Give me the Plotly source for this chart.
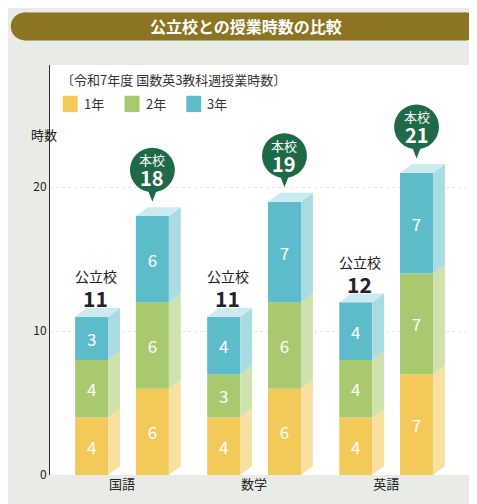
import plotly.graph_objects as go

subjects = ["国語", "数学", "英語"]
grades = ["1年", "2年", "3年"]
public_hours = [[4, 4, 3], [4, 3, 4], [4, 4, 4]]
school_hours = [[6, 6, 6], [6, 6, 7], [7, 7, 7]]
front_colors = ["#f3c95a", "#a9c96f", "#5cbccb"]
side_colors = ["#f8e0a0", "#cfe2ad", "#a9dbe3"]
top_colors = ["#fbecc4", "#e1edcb", "#cdeaef"]

fig = go.Figure()
W = 0.25
DX, DY = 0.09, 0.62


def draw_bar(xc, vals):
    base = 0
    for k, v in enumerate(vals):
        x0, x1 = xc - W / 2, xc + W / 2
        fig.add_trace(go.Bar(x=[xc], y=[v], base=[base], width=W, marker_color=front_colors[k],
                             marker_line_width=0, showlegend=False, hoverinfo="skip",
                             text=[str(v)], textposition="inside", insidetextanchor="middle",
                             textfont=dict(color="white", size=17)))
        fig.add_trace(go.Scatter(x=[x1, x1 + DX, x1 + DX, x1, x1], y=[base, base + DY, base + v + DY, base + v, base],
                                 fill="toself", fillcolor=side_colors[k], line_width=0, mode="lines",
                                 showlegend=False, hoverinfo="skip"))
        base += v
    fig.add_trace(go.Scatter(x=[x0, x1, x1 + DX, x0 + DX, x0], y=[base, base, base + DY, base + DY, base],
                             fill="toself", fillcolor=top_colors[2], line_width=0, mode="lines",
                             showlegend=False, hoverinfo="skip"))
    return base


fig.add_shape(type="path", xref="paper", yref="y",
              path="M 0,0 L 1,0 L 1,-1.2 L 0,-1.2 Z", fillcolor="#e4e4e2", line_width=0, layer="below")

for i, s in enumerate(subjects):
    xp, xs = i - 0.23, i + 0.23
    tp = draw_bar(xp, public_hours[i])
    ts = draw_bar(xs, school_hours[i])
    fig.add_annotation(x=xp + 0.03, y=tp + 2.8, text="公立校", showarrow=False, yanchor="middle",
                       font=dict(size=14, color="#222"))
    fig.add_annotation(x=xp + 0.03, y=tp + 1.3, text="<b>%d</b>" % tp, showarrow=False, yanchor="middle",
                       font=dict(size=21, color="#222"))
    cy = ts + 3.2
    fig.add_shape(type="path", xref="x", yref="y",
                  path=f"M {xs-0.05},{cy-1.0} L {xs+0.05},{cy-1.0} L {xs},{ts+1.0} Z",
                  fillcolor="#1f6a46", line_width=0)
    fig.add_shape(type="circle", xref="x", yref="y", x0=xs - 0.17, x1=xs + 0.17, y0=cy - 1.55, y1=cy + 1.55,
                  fillcolor="#1f6a46", line_width=0)
    fig.add_annotation(x=xs, y=cy + 0.7, text="本校", showarrow=False, yanchor="middle",
                       font=dict(size=13, color="white"))
    fig.add_annotation(x=xs, y=cy - 0.55, text="<b>%d</b>" % ts, showarrow=False, yanchor="middle",
                       font=dict(size=20, color="white"))

# title pill
pill = "#8c7522"
fig.add_shape(type="rect", xref="paper", yref="paper", x0=-0.059, x1=0.976, y0=1.06, y1=1.128,
              fillcolor=pill, line_width=0)
fig.add_shape(type="circle", xref="paper", yref="paper", x0=-0.092, x1=-0.026, y0=1.06, y1=1.128,
              fillcolor=pill, line_width=0)
fig.add_shape(type="circle", xref="paper", yref="paper", x0=0.943, x1=1.009, y0=1.06, y1=1.128,
              fillcolor=pill, line_width=0)
fig.add_annotation(xref="paper", yref="paper", x=0.46, y=1.094, yanchor="middle", text="<b>公立校との授業時数の比較</b>",
                   showarrow=False, font=dict(size=16, color="white"))

fig.add_annotation(xref="paper", yref="paper", x=0.02, y=0.965, xanchor="left", yanchor="middle", showarrow=False,
                   text="〔令和7年度 国数英3教科週授業時数〕", font=dict(size=13, color="#333"))
for k, g in enumerate(grades):
    x0 = 0.03 + k * 0.145
    fig.add_shape(type="rect", xref="paper", yref="paper", x0=x0, x1=x0 + 0.035, y0=0.885, y1=0.925,
                  fillcolor=front_colors[k], line_width=0)
    fig.add_annotation(xref="paper", yref="paper", x=x0 + 0.045, y=0.905, xanchor="left", yanchor="middle",
                       showarrow=False, text=g, font=dict(size=13, color="#333"))
fig.add_annotation(xref="paper", yref="paper", x=-0.05, y=0.83, yanchor="middle", showarrow=False, text="時数",
                   font=dict(size=13, color="#222"))

fig.update_layout(
    width=477, height=504, margin=dict(l=42, r=9, t=57, b=37),
    paper_bgcolor="#e9ebe7", plot_bgcolor="white", barmode="overlay", showlegend=False,
    font=dict(family="Noto Sans CJK JP"),
    xaxis=dict(range=[-0.545, 2.68], tickvals=[0, 1, 2], ticktext=subjects, showgrid=False,
               zeroline=False, tickfont=dict(size=13, color="#222"), ticks=""),
    yaxis=dict(range=[0, 28.5], tickvals=[0, 10, 20], showgrid=True, gridcolor="#e6e6e6",
               griddash="dot", zeroline=False, showline=True, linecolor="#333",
               tickfont=dict(size=12, color="#222")),
)
fig.write_html("out.html")
